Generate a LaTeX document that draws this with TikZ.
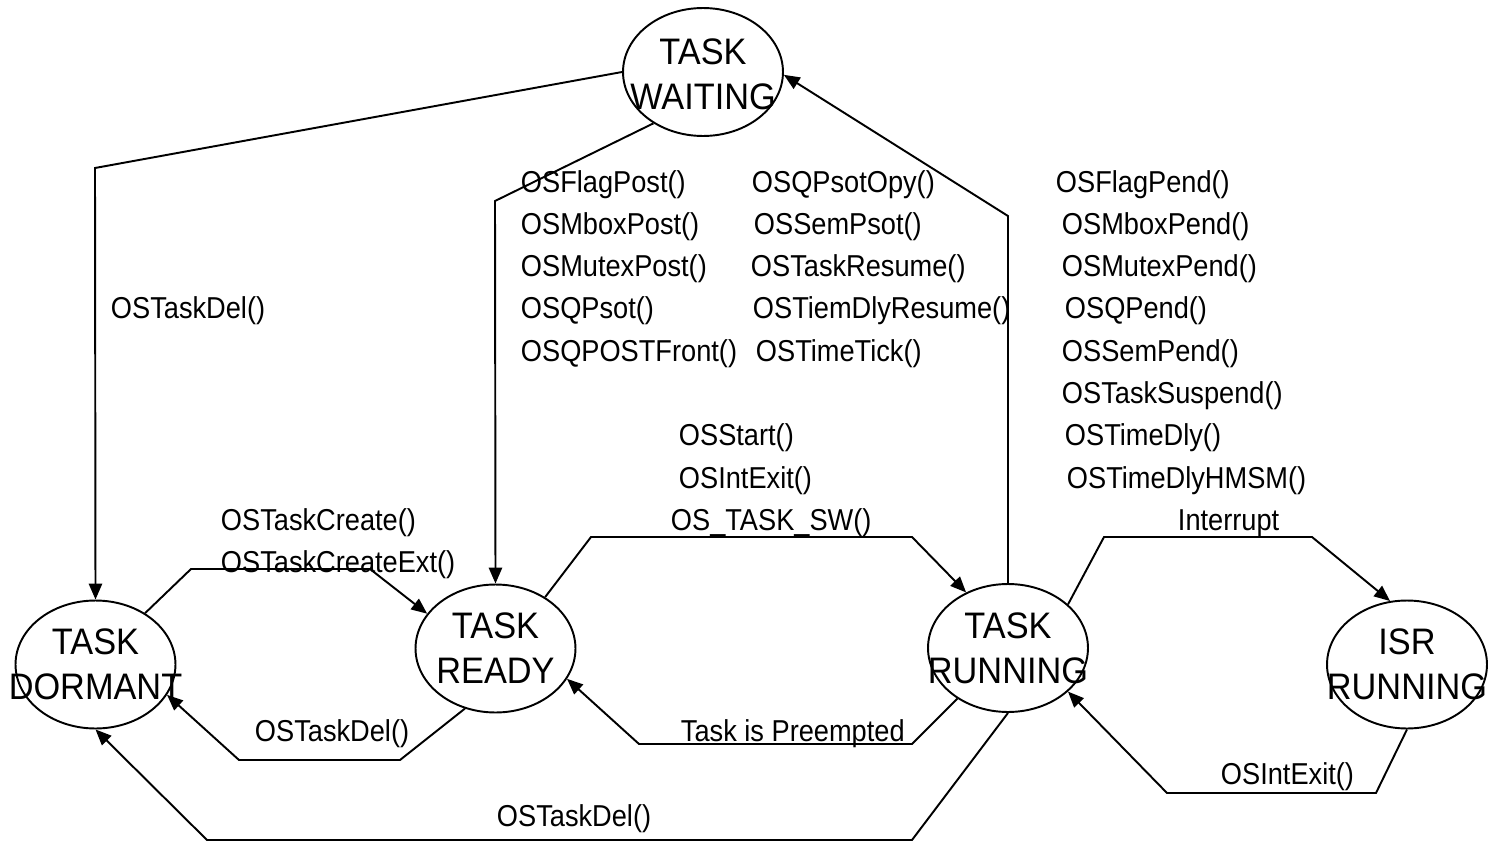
\documentclass[tikz,border=0pt]{standalone}
\usepackage{fontspec}
\setmainfont{Liberation Sans}[FakeStretch=0.9]
\newfontfamily\statefont{Liberation Sans}[FakeStretch=0.93]
\usetikzlibrary{shapes.geometric,arrows.meta}

\begin{document}
\begin{tikzpicture}[x=0.02cm,y=-0.02cm,line width=1.1pt,
  >={Triangle[length=9pt,width=7.5pt]},
  state/.style={ellipse,draw,minimum width=3.2cm,minimum height=2.56cm,inner sep=0pt},
  statename/.style={align=center,inner sep=0pt,font=\statefont\fontsize{21}{25.5}\selectfont},
  call/.style={anchor=base west,inner sep=0pt,font=\fontsize{17.2}{24}\selectfont}]

\useasboundingbox (0,0) rectangle (1489,842);

%% task states
\node[state] (wait) at (703,72) {};
\node[statename] (waitname) at (703,74) {TASK\\WAITING};
\node[state] (dor) at (95.5,664.5) {};
\node[statename] (dorname) at (dor) {TASK\\DORMANT};
\node[state] (rdy) at (495.5,648.5) {};
\node[statename] (rdyname) at (rdy) {TASK\\READY};
\node[state] (run) at (1008,648) {};
\node[statename] (runname) at (run) {TASK\\RUNNING};
\node[state] (isr) at (1407,664.5) {};
\node[statename] (isrname) at (isr) {ISR\\RUNNING};

%% transitions
\draw[->] (wait.west) -- (95,168) -- (dor.north);
\draw[->] (wait.226) -- (495,201) -- (rdy.north);
\draw[->] (run.north) -- (1008,216) -- (wait.-2);
\draw[->] (dor.46) -- (191,569) -- (370,569) -- (rdy.153);
\draw[->] (rdy.243) -- (400,760) -- (239,760) -- (dor.-23);
\draw[->] (run.south) -- (912,840) -- (207,840) -- (dor.south);
\draw[->] (rdy.46) -- (591,537) -- (912,537) -- (run.127);
\draw[->] (run.225) -- (912,744) -- (639,744) -- (rdy.-23);
\draw[->] (run.36) -- (1104,537) -- (1312,537) -- (isr.105);
\draw[->] (isr.south) -- (1376,793) -- (1167,793) -- (run.-36);

%% waiting -> dormant
\node[call] (delwait) at (110,318.9) {OSTaskDel()};

%% waiting -> ready
\node[call] (flagpost) at (520,192) {OSFlagPost()};
\node[call] (mboxpost) at (520,234.3) {OSMboxPost()};
\node[call] (mutexpost) at (520,276.6) {OSMutexPost()};
\node[call] (qpost) at (520,318.9) {OSQPsot()};
\node[call] (qpostfront) at (520,361.2) {OSQPOSTFront()};
\node[call] (qpostopt) at (751,192) {OSQPsotOpy()};
\node[call] (sempost) at (753,234.3) {OSSemPsot()};
\node[call] (resume) at (750,276.6) {OSTaskResume()};
\node[call] (dlyresume) at (752,318.9) {OSTiemDlyResume()};
\node[call] (timetick) at (755,361.2) {OSTimeTick()};

%% running -> waiting
\node[call] (flagpend) at (1055,192) {OSFlagPend()};
\node[call] (mboxpend) at (1061,234.3) {OSMboxPend()};
\node[call] (mutexpend) at (1061,276.6) {OSMutexPend()};
\node[call] (qpend) at (1064,318.9) {OSQPend()};
\node[call] (sempend) at (1061,361.2) {OSSemPend()};
\node[call] (suspend) at (1061,403.5) {OSTaskSuspend()};
\node[call] (timedly) at (1064,445.8) {OSTimeDly()};
\node[call] (timedlyhmsm) at (1066,488.1) {OSTimeDlyHMSM()};

%% ready -> running
\node[call] (start) at (678,445.8) {OSStart()};
\node[call] (intexit) at (678,488.1) {OSIntExit()};
\node[call] (tasksw) at (670,530.4) {OS\_TASK\_SW()};

%% dormant <-> ready
\node[call] (create) at (220,530.4) {OSTaskCreate()};
\node[call] (createext) at (220,572.7) {OSTaskCreateExt()};
\node[call] (delrdy) at (254,741.9) {OSTaskDel()};

%% running <-> ready, isr, dormant
\node[call] (preempt) at (680,741.9) {Task is Preempted};
\node[call] (irq) at (1177,530.4) {Interrupt};
\node[call] (isrexit) at (1220,784.2) {OSIntExit()};
\node[call] (delrun) at (496,826.5) {OSTaskDel()};

\end{tikzpicture}
\end{document}
